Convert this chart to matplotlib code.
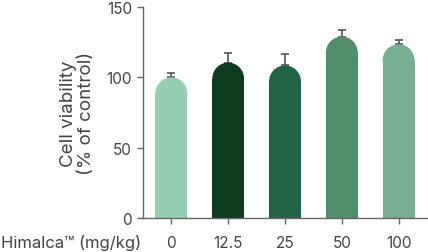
import numpy as np
import matplotlib
matplotlib.use("Agg")
import matplotlib.pyplot as plt
from matplotlib.patches import Ellipse

plt.rcParams['font.family'] = ['Inter', 'DejaVu Sans']

doses = ['0', '12.5', '25', '50', '100']
viability = [100, 110.5, 108.5, 129, 123.5]
err = [3.5, 7, 8, 4.5, 3]
colors = ['#93cfb0', '#0d3b20', '#1e6445', '#528e6c', '#76af91']

W, H, dpi = 428, 253, 100
fig = plt.figure(figsize=(W / dpi, H / dpi), dpi=dpi)
ax_l, ax_b, ax_r, ax_t = 143, 219.3, 427, 8
ax = fig.add_axes([ax_l / W, 1 - ax_b / H, (ax_r - ax_l) / W, (ax_b - ax_t) / H])

ax.set_xlim(-0.5, 4.5)
ax.set_ylim(0, 150)

bw = 0.56
# radius of round cap in data units (semicircle in pixel space)
px_per_x = (ax_r - ax_l) / 5.0
px_per_y = (ax_b - ax_t) / 150.0
r_px = bw * px_per_x / 2
r_y = r_px / px_per_y

x = np.arange(len(doses))
for i in range(len(doses)):
    ax.errorbar(x[i], viability[i], yerr=[[0], [err[i]]], fmt='none',
                ecolor='#555555', elinewidth=1.2, capsize=3, capthick=1.2, zorder=1)
    ax.bar(x[i], viability[i] - r_y, width=bw, color=colors[i], zorder=2)
    ax.add_patch(Ellipse((x[i], viability[i] - r_y), bw, 2 * r_y,
                         color=colors[i], zorder=2, lw=0))

ax.set_xticks(x)
ax.set_xticklabels(doses)
ax.set_yticks([0, 50, 100, 150])
for s in ['top', 'right']:
    ax.spines[s].set_visible(False)
for s in ['left', 'bottom']:
    ax.spines[s].set_color('#666666')
    ax.spines[s].set_linewidth(1.0)
ax.tick_params(colors='#666666', labelcolor='#444444', labelsize=11, length=4, width=1.0, pad=4)
ax.tick_params(axis='x', pad=8)
ax.set_ylabel('Cell viability\n(% of control)', fontsize=13.5, color='#444444', labelpad=8, linespacing=1.1)

fig.text(141 / W, 1 - 243 / H, 'Himalca\u2122 (mg/kg)', fontsize=12, color='#444444',
         ha='right', va='center')

fig.savefig('out.png', dpi=dpi)
